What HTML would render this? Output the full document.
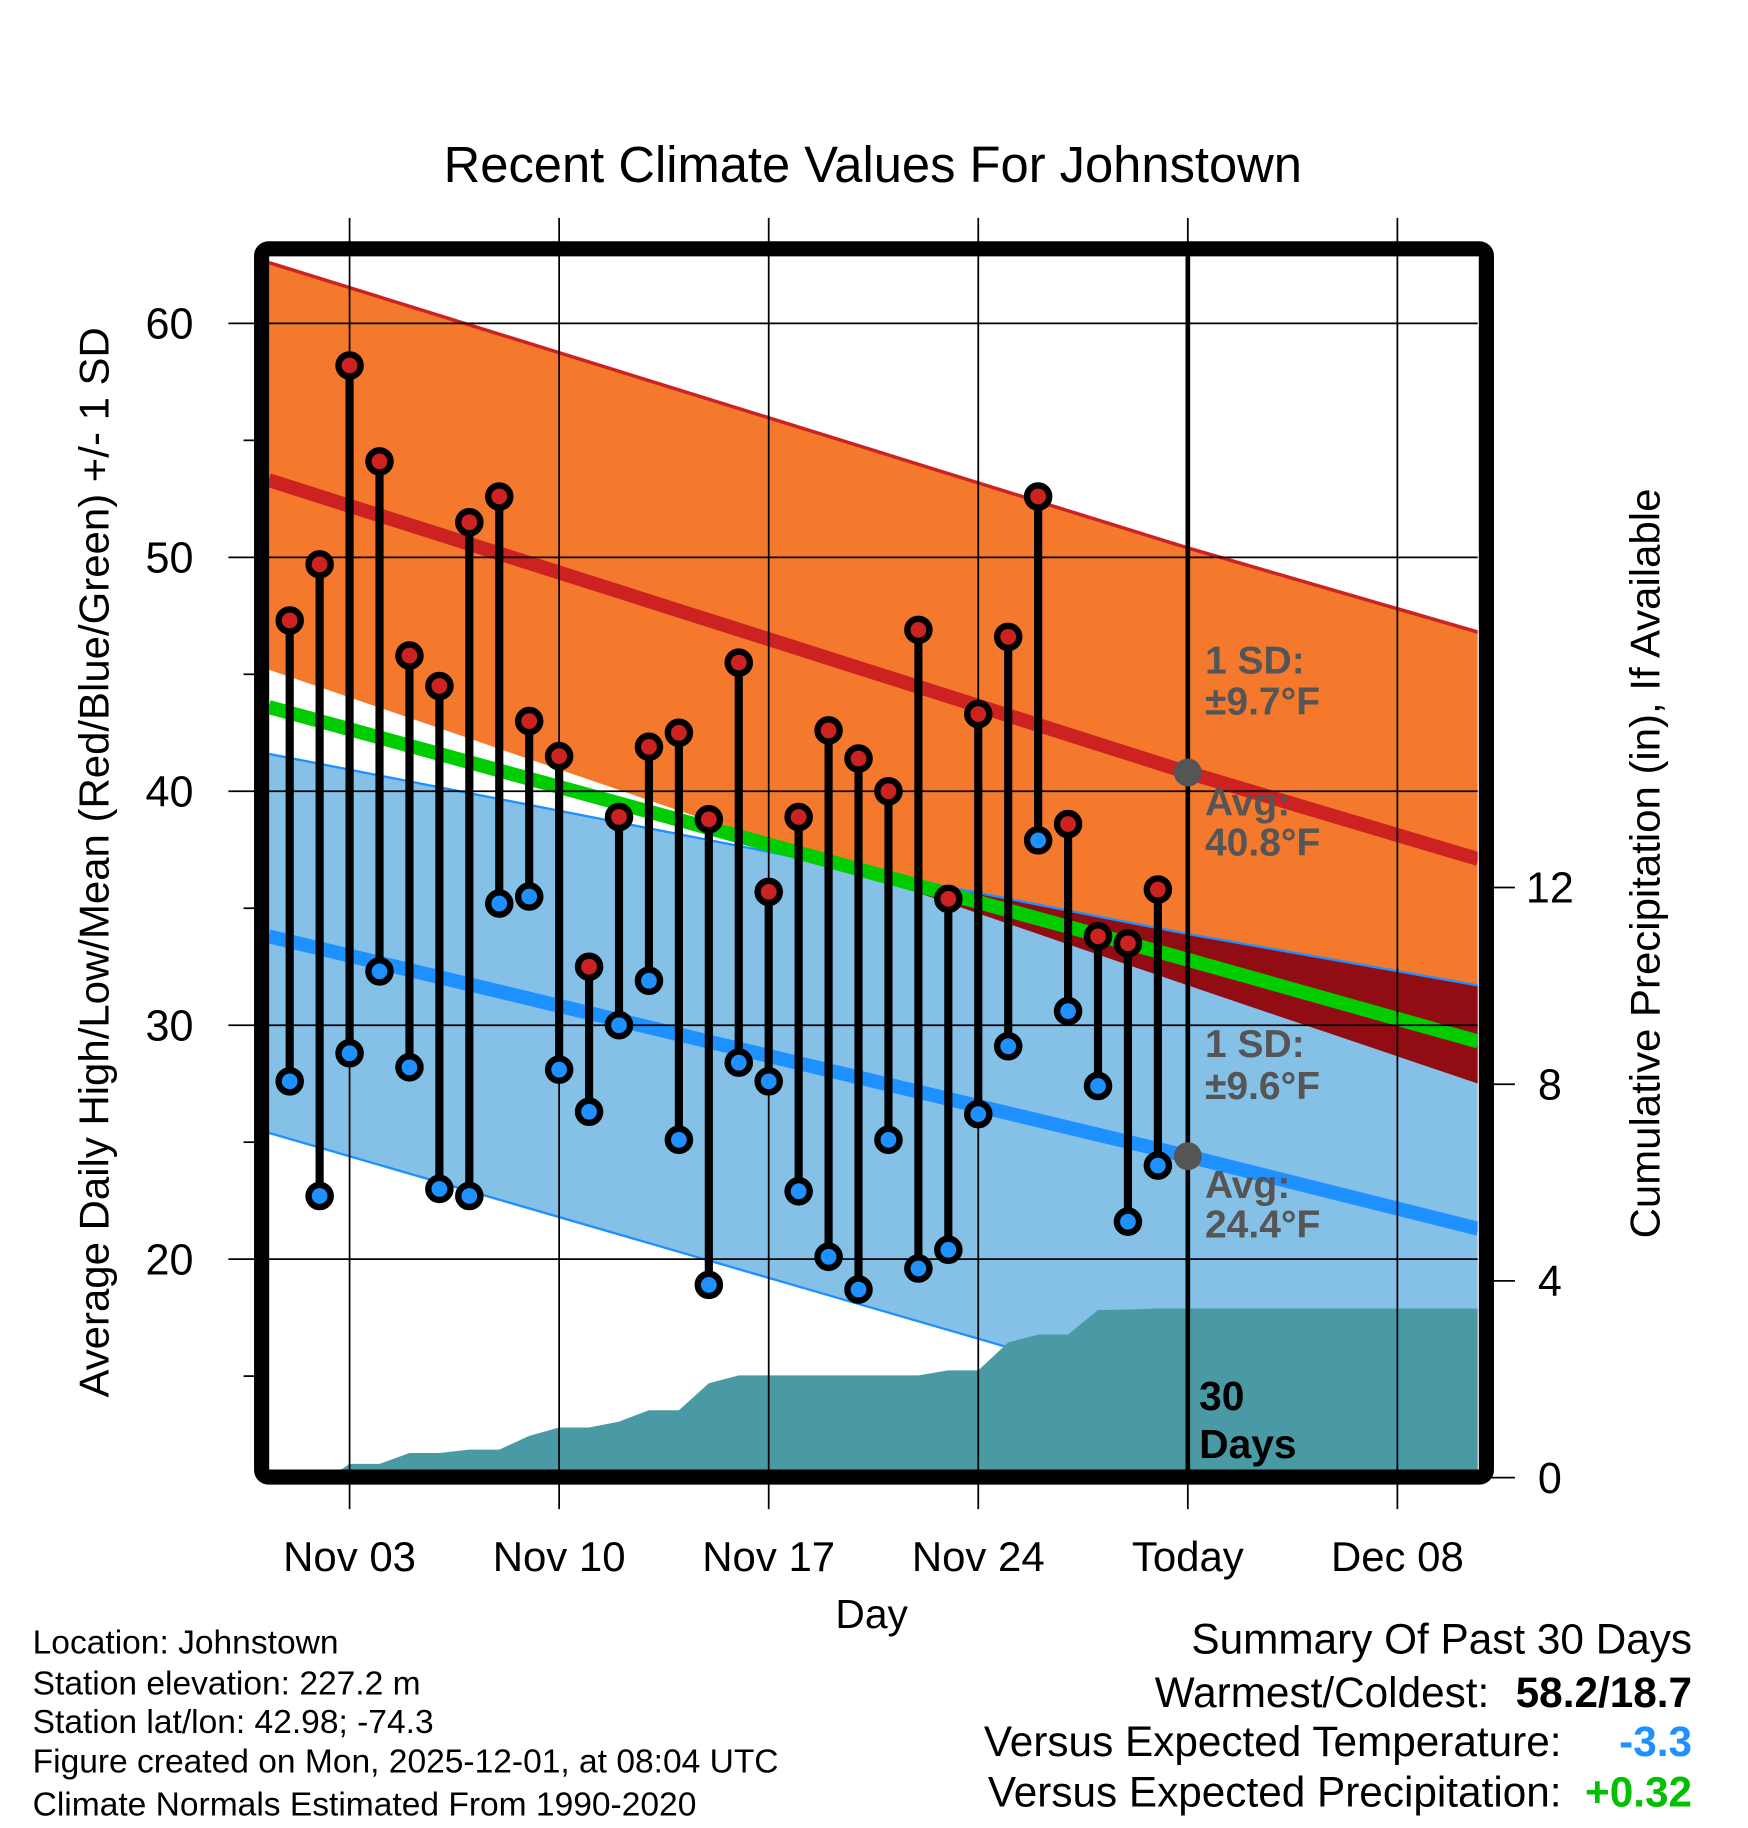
<!DOCTYPE html>
<html><head><meta charset="utf-8"><style>
html,body{margin:0;padding:0;background:#fff}
svg{display:block}
text{font-family:"Liberation Sans",sans-serif}
</style></head><body>
<svg id="chart" width="1748" height="1828" viewBox="0 0 1500 1568.65" xmlns="http://www.w3.org/2000/svg">
<defs><clipPath id="plotclip"><rect x="231" y="220" width="1037" height="1041"/></clipPath></defs>
<g id="g-fill" clip-path="url(#plotclip)"></g>
<g id="g-axes"></g>
<g id="g-marks" clip-path="url(#plotclip)"></g>
<text x="749" y="156" font-size="43.5" text-anchor="middle">Recent Climate Values For Johnstown</text>
<text transform="translate(93,740) rotate(-90)" font-size="36" text-anchor="middle">Average Daily High/Low/Mean (Red/Blue/Green) +/- 1 SD</text>
<text transform="translate(1424,741) rotate(-90)" font-size="36" text-anchor="middle">Cumulative Precipitation (in), If Available</text>
<text x="748" y="1397" font-size="35" text-anchor="middle">Day</text>
<g font-size="28.8">
<text x="28" y="1419">Location: Johnstown</text>
<text x="28" y="1454">Station elevation: 227.2 m</text>
<text x="28" y="1487">Station lat/lon: 42.98; -74.3</text>
<text x="28" y="1521">Figure created on Mon, 2025-12-01, at 08:04 UTC</text>
<text x="28" y="1558">Climate Normals Estimated From 1990-2020</text>
</g>
<g font-size="36.3" text-anchor="end">
<text x="1452" y="1419">Summary Of Past 30 Days</text>
<text x="1278" y="1465">Warmest/Coldest:</text>
<text x="1452" y="1465" font-weight="bold">58.2/18.7</text>
<text x="1340" y="1507">Versus Expected Temperature:</text>
<text x="1452" y="1507" font-weight="bold" fill="#1e90ff">-3.3</text>
<text x="1340" y="1550">Versus Expected Precipitation:</text>
<text x="1452" y="1550" font-weight="bold" fill="#00c000">+0.32</text>
</g>
</svg>
<script>
const days=["Nov 01","Nov 02","Nov 03","Nov 04","Nov 05","Nov 06","Nov 07","Nov 08","Nov 09","Nov 10","Nov 11","Nov 12","Nov 13","Nov 14","Nov 15","Nov 16","Nov 17","Nov 18","Nov 19","Nov 20","Nov 21","Nov 22","Nov 23","Nov 24","Nov 25","Nov 26","Nov 27","Nov 28","Nov 29","Nov 30"];
const highs=[47.3,49.7,58.2,54.1,45.8,44.5,51.5,52.6,43.0,41.5,32.5,38.9,41.9,42.5,38.8,45.5,35.7,38.9,42.6,41.4,40.0,46.9,35.4,43.3,46.6,52.6,38.6,33.8,33.5,35.8];
const lows=[27.6,22.7,28.8,32.3,28.2,23.0,22.7,35.2,35.5,28.1,26.3,30.0,31.9,25.1,18.9,28.4,27.6,22.9,20.1,18.7,25.1,19.6,20.4,26.2,29.1,37.9,30.6,27.4,21.6,24.0];
const precip=[0,0,0.28,0.28,0.5,0.5,0.57,0.57,0.85,1.02,1.02,1.14,1.37,1.37,1.92,2.08,2.08,2.08,2.08,2.08,2.08,2.08,2.18,2.18,2.75,2.91,2.91,3.41,3.42,3.44];
const normDays=[-0.7,30,39.7];
const highUpper=[62.6,50.4,46.8];
const highAvg=[53.3,40.8,37.1];
const highLower=[45.2,31.7,27.5];
const meanNorm=[43.6,32.8,29.3];
const lowUpper=[41.6,33.9,31.7];
const lowAvg=[33.8,24.4,21.3];
const lowLower=[25.4,14.0,10.2];
const xTickDays=[2,9,16,23,30,37];
const xTickLabels=["Nov 03","Nov 10","Nov 17","Nov 24","Today","Dec 08"];
const yTicks=[20,30,40,50,60];
const yMinor=[15,25,35,45,55];
const pTicks=[0,4,8,12];

const NS="http://www.w3.org/2000/svg";
const X=d=>248.6+25.69*d;
const Y=t=>679-(t-40)*20.075;
const P=p=>1268-p*42.2;
function mk(tag,attrs,parent){const e=document.createElementNS(NS,tag);for(const k in attrs)e.setAttribute(k,attrs[k]);parent.appendChild(e);return e;}
const gF=document.getElementById('g-fill'),gA=document.getElementById('g-axes'),gM=document.getElementById('g-marks');
const pts=a=>a.map((v,i)=>X(normDays[i])+','+Y(v));
const band=(u,l)=>pts(u).concat(pts(l).reverse()).join(' ');

let e=mk('polygon',{points:band(highUpper,highLower),fill:'#f5792c'},gF);

e=mk('polygon',{points:band(lowUpper,lowLower),fill:'#85c1e7'},gF);

const cp=mk('clipPath',{id:'lowclip'},document.querySelector('defs'));
mk('polygon',{points:band(lowUpper,lowLower)},cp);
e=mk('polygon',{points:band(highUpper,highLower),fill:'#920c13','clip-path':'url(#lowclip)'},gF);

function line(a,col,w,name){const l=mk('polyline',{points:pts(a).join(' '),fill:'none',stroke:col,'stroke-width':w},gF);}
line(highUpper,'#cc2222',3,'high-upper-sd-line');
line(lowUpper,'#1e90ff',2,'low-upper-sd-line');
line(lowLower,'#1e90ff',2,'low-lower-sd-line');
line(highAvg,'#cc2222',12,'high-avg-line');
line(meanNorm,'#00cc00',12,'mean-avg-line');
line(lowAvg,'#1e90ff',12,'low-avg-line');
// precipitation area
let pp=[X(1)+8+','+P(0)];
precip.forEach((v,i)=>{if(i>=2)pp.push(X(i)+','+P(v));});
pp.push('1270,'+P(precip[precip.length-1]),'1270,1270',X(1)+8+',1270');
e=mk('polygon',{points:pp.join(' '),fill:'#4a9aa5'},gF);


yTicks.forEach(t=>{
 e=mk('line',{x1:196,x2:1268,y1:Y(t),y2:Y(t),stroke:'#000','stroke-width':1.5},gA);
 
 e=mk('text',{x:166,y:Y(t)+13,'font-size':37,'text-anchor':'end'},gA);e.textContent=t;
 
});
yMinor.forEach(t=>{if(Y(t)<1261){e=mk('line',{x1:209,x2:220,y1:Y(t),y2:Y(t),stroke:'#000','stroke-width':1.5},gA);
 }});
xTickDays.forEach((d,i)=>{
 e=mk('line',{x1:X(d),x2:X(d),y1:187,y2:1295,stroke:'#000','stroke-width':1.5},gA);
 
 e=mk('text',{x:X(d),y:1348,'font-size':36,'text-anchor':'middle'},gA);e.textContent=xTickLabels[i];
 
});
pTicks.forEach(p=>{
 e=mk('line',{x1:1275,x2:1300,y1:P(p),y2:P(p),stroke:'#000','stroke-width':1.5},gA);
 
 e=mk('text',{x:1330,y:P(p)+13,'font-size':37,'text-anchor':'middle'},gA);e.textContent=p;
 
});

e=mk('line',{x1:X(30),x2:X(30),y1:220,y2:1261,stroke:'#000','stroke-width':4},gM);

e=mk('circle',{cx:X(30),cy:Y(highAvg[1]),r:12,fill:'#555'},gM);

e=mk('circle',{cx:X(30),cy:Y(lowAvg[1]),r:12,fill:'#555'},gM);

const ann=[["1 SD:",578],["±9.7°F",613],["Avg:",700],["40.8°F",734],["1 SD:",907],["±9.6°F",943],["Avg:",1028],["24.4°F",1062]];
ann.forEach(a=>{e=mk('text',{x:1034,y:a[1],'font-size':33.5,'font-weight':'bold',fill:'#555'},gM);e.textContent=a[0];
 });
[["30",1210],["Days",1251]].forEach(a=>{e=mk('text',{x:1029,y:a[1],'font-size':35,'font-weight':'bold',fill:'#000'},gM);e.textContent=a[0];
 });

days.forEach((d,i)=>{
 const x=X(i);
 e=mk('line',{x1:x,x2:x,y1:Y(highs[i]),y2:Y(lows[i]),stroke:'#000','stroke-width':7},gM);
 
 e=mk('circle',{cx:x,cy:Y(highs[i]),r:9.5,fill:'#cc2222',stroke:'#000','stroke-width':5.5},gM);
 
 e=mk('circle',{cx:x,cy:Y(lows[i]),r:9.5,fill:'#1e90ff',stroke:'#000','stroke-width':5.5},gM);
 
});
e=mk('rect',{x:224.5,y:213.5,width:1051,height:1054,rx:6,fill:'none',stroke:'#000','stroke-width':13},document.getElementById('chart'));

</script>
</body></html>
